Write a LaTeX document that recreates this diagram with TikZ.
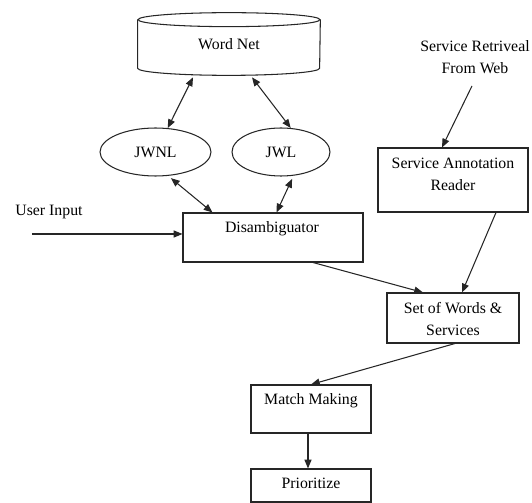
\documentclass[tikz,border=0pt]{standalone}
\usepackage{fontspec}
\setmainfont{Liberation Serif}
\usetikzlibrary{arrows.meta, shapes.geometric}

\begin{document}
\begin{tikzpicture}[
    x=0.02cm, y=0.02cm,
    box/.style={draw=black!85, line width=0.6pt, inner sep=0pt},
    oval/.style={ellipse, draw=black!85, line width=0.6pt, inner sep=0pt, font=\fontsize{9}{12.5}\selectfont},
    lbl/.style={font=\fontsize{9}{12.5}\selectfont, align=center, inner sep=0pt},
    con/.style={line width=0.6pt, draw=black!85, -{Triangle[length=5pt,width=4pt]}},
    bicon/.style={con, {Triangle[length=5pt,width=4pt]}-{Triangle[length=5pt,width=4pt]}},
]
\useasboundingbox (0,0) rectangle (532,-503);

% === Word Net store ===
\node[lbl, minimum width=3.64cm, minimum height=1.24cm] (wordnet) at (229,-44) {Word Net};
\draw[line width=0.6pt, black!85] ([yshift=-0.14cm]wordnet.north) ellipse [x radius=1.82cm, y radius=0.14cm];
\draw[line width=0.6pt, black!85] ([yshift=-0.14cm]wordnet.north west) -- ([yshift=0.14cm]wordnet.south west)
    arc[start angle=180, end angle=360, x radius=1.82cm, y radius=0.14cm] -- ([yshift=-0.14cm]wordnet.north east);

% === Interfaces ===
\node[oval, minimum width=2.22cm, minimum height=0.96cm] (jwnl) at (155.5,-152) {JWNL};
\node[oval, minimum width=1.96cm, minimum height=0.96cm] (jwl) at (281,-152) {JWL};

% === Process boxes ===
\node[box, minimum width=3.6cm, minimum height=0.98cm] (dis) at (273,-237.5) {};
\node[lbl] (distext) at (272,-229) {Disambiguator};

\node[box, minimum width=3.0cm, minimum height=1.28cm] (sar) at (453,-180) {};
\node[lbl] (sartext) at (453,-174) {Service Annotation\\Reader};

\node[box, minimum width=2.64cm, minimum height=1.0cm] (sws) at (453,-318) {};
\node[lbl] (swstext) at (453,-319) {Set of Words \&\\Services};

\node[box, minimum width=2.4cm, minimum height=0.96cm] (mm) at (311,-409) {};
\node[lbl] (mmtext) at (311,-401) {Match Making};

\node[box, minimum width=2.4cm, minimum height=0.66cm] (pri) at (311,-485.5) {};
\node[lbl] (pritext) at (311,-483) {Prioritize};

% === Inputs ===
\node[lbl] (retr) at (475,-57) {Service Retriveal\\From Web};
\node[lbl] (user) at (49,-212) {User Input};
\coordinate (userstart) at (32,-234);

% === Connectors ===
\draw[bicon] ([shift={(-0.72cm,-0.04cm)}]wordnet.south) -- (jwnl.63);
\draw[bicon] ([shift={(0.46cm,-0.04cm)}]wordnet.south) -- (jwl.68);
\draw[bicon, shorten <=2pt] (jwnl.-62) -- ([xshift=0.6cm]dis.north west);
\draw[bicon, shorten <=2pt] (jwl.-62) -- ([xshift=1.88cm]dis.north west);
\draw[con] (userstart) -- (userstart -| dis.west);
\draw[con] ([shift={(-0.06cm,-0.24cm)}]retr.south) -- ([xshift=-0.22cm]sar.north);
\draw[con] ([xshift=0.86cm]sar.south) -- ([xshift=0.18cm]sws.north);
\draw[con] ([xshift=0.8cm]dis.south) -- ([xshift=-0.6cm]sws.north);
\draw[con] ([xshift=0.04cm]sws.south) -- (mm.north);
\draw[con] ([xshift=-0.06cm]mm.south) -- ([xshift=-0.06cm]pri.north);
\end{tikzpicture}
\end{document}
